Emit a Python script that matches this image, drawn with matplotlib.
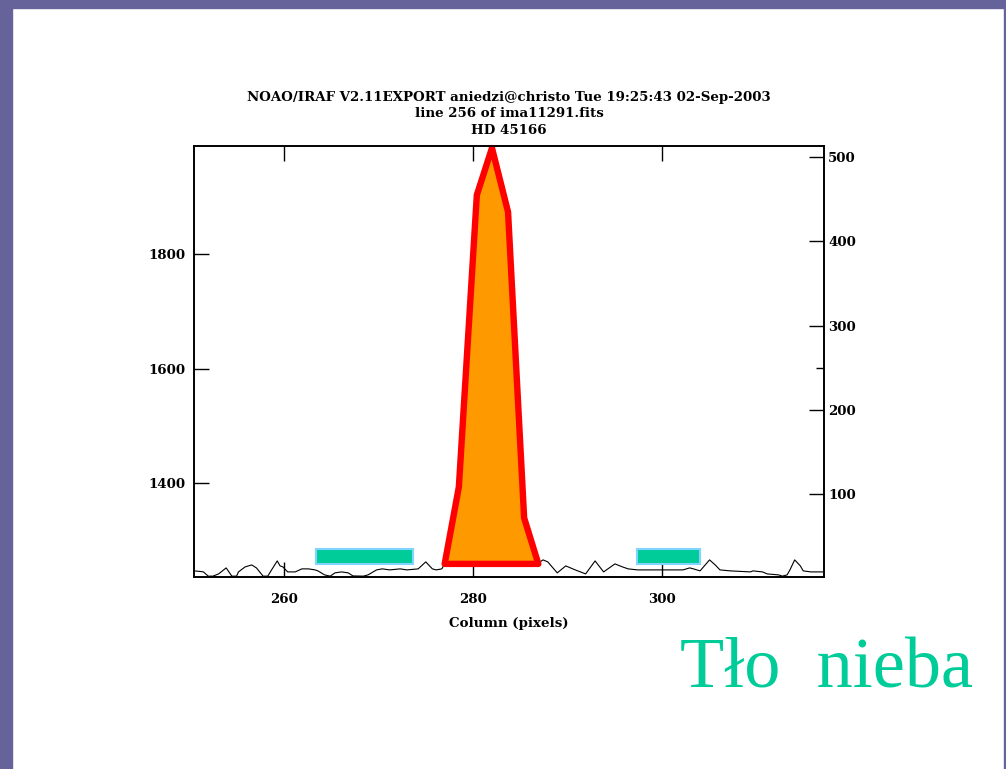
import matplotlib.pyplot as plt
from matplotlib.patches import Polygon, Rectangle
from matplotlib.ticker import FixedLocator

# cut along line 256, sky level left of the star
left_col = [250.5, 251.1, 251.5, 252.0, 252.5, 253.1, 253.9, 254.5, 255.0, 255.2,
            255.9, 256.6, 257.1, 257.8, 258.3, 258.7, 259.3, 259.6, 259.9, 260.4,
            261.2, 261.9, 262.6, 263.3, 263.6, 264.3, 264.9, 265.4, 266.1, 266.8,
            267.3, 268.4, 268.9, 269.8, 270.4, 271.2, 272.3, 273.0, 274.2, 275.0,
            275.7, 276.1, 276.7, 277.1]
left_val = [1247.2, 1246.3, 1245.4, 1238.0, 1238.0, 1241.9, 1252.4, 1238.0, 1238.0, 1245.4,
            1254.1, 1257.6, 1252.4, 1238.0, 1238.0, 1248.9, 1264.6, 1255.9, 1254.1, 1245.4,
            1245.4, 1250.7, 1250.7, 1248.9, 1247.2, 1240.2, 1238.0, 1243.7, 1245.4, 1243.7,
            1238.4, 1238.0, 1240.2, 1248.9, 1250.7, 1248.9, 1250.7, 1248.9, 1250.7, 1262.9,
            1250.7, 1248.9, 1250.7, 1262.9]

# sky level right of the star
right_col = [286.9, 287.4, 287.9, 288.9, 289.8, 290.8, 291.9, 292.9, 293.8, 295.0,
             295.8, 296.4, 297.4, 299.8, 302.2, 302.9, 303.3, 304.0, 305.0, 305.6,
             306.1, 307.2, 309.3, 309.6, 310.6, 311.1, 312.3, 312.7, 313.2, 313.5,
             314.0, 314.6, 314.9, 315.7, 317.1]
right_val = [1261.0, 1266.4, 1262.9, 1243.7, 1255.9, 1248.9, 1241.9, 1264.6, 1245.4, 1259.4,
             1254.1, 1250.7, 1248.9, 1248.9, 1248.9, 1252.4, 1250.7, 1247.2, 1266.4, 1257.6,
             1248.9, 1247.2, 1245.4, 1247.2, 1245.4, 1241.9, 1240.2, 1238.0, 1240.2, 1248.9,
             1266.4, 1255.9, 1247.2, 1245.4, 1245.4]

# star profile outline
peak_col = [277.0, 278.5, 280.4, 282.0, 283.7, 285.4, 286.9]
peak_val = [1259.4, 1393.9, 1903.9, 1986.0, 1874.2, 1339.7, 1259.4]

# sky windows
sky_windows = [(263.4, 273.7), (297.3, 304.0)]
sky_band = (1259.4, 1285.6)

x_ticks = [260, 280, 300]
left_ticks = [1400, 1600, 1800]
right_ticks = [100, 200, 300, 400, 500]

title_lines = ["NOAO/IRAF V2.11EXPORT aniedzi@christo Tue 19:25:43 02-Sep-2003",
               "line 256 of ima11291.fits",
               "HD 45166"]

W, H = 1006, 769
fig = plt.figure(figsize=(W / 100, H / 100), dpi=100)

# slide frame
purple = "#66639a"
fig.patches.append(Rectangle((0, 1 - 8 / H), 1, 8 / H, transform=fig.transFigure,
                             color=purple, zorder=0))
fig.patches.append(Rectangle((0, 0), 12 / W, 1, transform=fig.transFigure,
                             color=purple, zorder=0))
fig.patches.append(Rectangle((1 - 2 / W, 0), 2 / W, 1, transform=fig.transFigure,
                             color=purple, zorder=0))

ax = fig.add_axes([194 / W, 1 - 577 / H, 630 / W, 431 / H])
tfont = dict(family="DejaVu Serif", weight="bold", size=9.6)

ax.plot(left_col, left_val, color="black", lw=0.8, zorder=2)
ax.plot(right_col, right_val, color="black", lw=0.8, zorder=2)

for x0, x1 in sky_windows:
    ax.add_patch(Rectangle((x0, sky_band[0]), x1 - x0, sky_band[1] - sky_band[0],
                           facecolor="#00cc99", edgecolor="#80d4ff", lw=1.5, zorder=3))

ax.add_patch(Polygon(list(zip(peak_col, peak_val)), closed=True, facecolor="#ff9900",
                     edgecolor="#ff0000", lw=4.6, joinstyle="round", zorder=4, clip_on=False))

ax.set_xlim(250.5, 317.1)
ax.set_ylim(1236.5, 1989.5)
ax.set_xticks(x_ticks)
ax.set_yticks(left_ticks)
ax.tick_params(axis="both", direction="in", length=11, width=1, color="black")
ax.tick_params(axis="x", top=True, pad=11.5)
ax.tick_params(axis="y", right=False, pad=6)
for lab in ax.get_xticklabels() + ax.get_yticklabels():
    lab.set(**tfont)
for sp in ax.spines.values():
    sp.set_linewidth(1.2)

ax2 = ax.twinx()
ax2.set_ylim(1.5, 513.1)
ax2.set_yticks(right_ticks)
ax2.yaxis.set_minor_locator(FixedLocator([250]))
ax2.tick_params(axis="y", which="major", direction="in", length=11, width=1, pad=3)
ax2.tick_params(axis="y", which="minor", direction="in", length=6, width=1)
for lab in ax2.get_yticklabels():
    lab.set(**tfont)
for sp in ax2.spines.values():
    sp.set_linewidth(1.2)

ax.set_xlabel("Column (pixels)", labelpad=8, **tfont)

for i, line in enumerate(title_lines):
    fig.text(509 / W, 1 - (97 + 16.5 * i) / H, line, ha="center", va="center", **tfont)

fig.text(680 / W, 1 - 688 / H, "Tło  nieba", family="Liberation Serif", size=52,
         color="#00cc99", ha="left", va="baseline")

fig.savefig("out.png", dpi=100)
